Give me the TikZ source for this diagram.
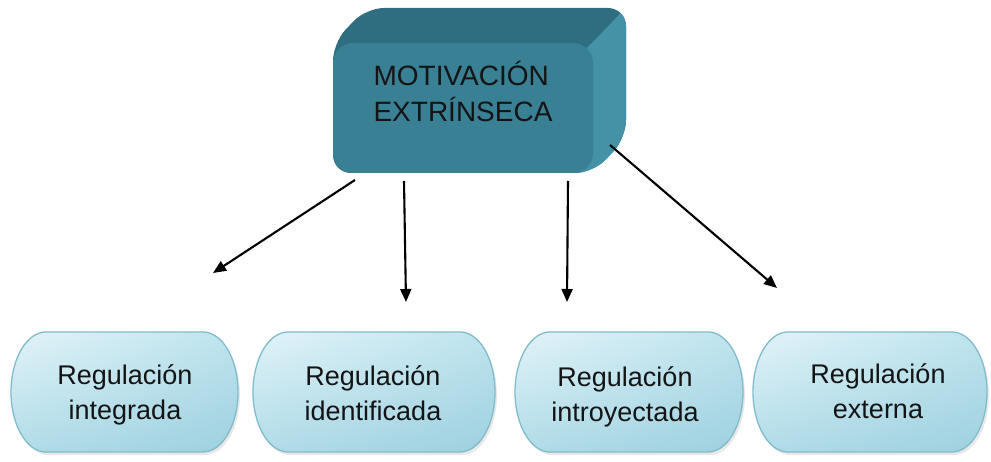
\documentclass[tikz,border=0pt]{standalone}
\usepackage{fontspec}
\setmainfont{Liberation Sans}
\usetikzlibrary{arrows.meta,shadings}
\definecolor{frontc}{RGB}{58,128,148}
\definecolor{topc}{RGB}{46,110,128}
\definecolor{sidec}{RGB}{68,146,166}
\definecolor{boxul}{RGB}{226,243,248}
\definecolor{boxur}{RGB}{190,228,238}
\definecolor{boxll}{RGB}{176,220,232}
\definecolor{boxlr}{RGB}{158,208,223}
\definecolor{boxedge}{RGB}{128,188,204}
\definecolor{txt}{RGB}{20,20,20}
\tikzset{
  lbl/.style={font=\fontsize{27}{35}\selectfont, align=center, text=txt, inner sep=0pt},
  conn/.style={line width=2.1pt, -{Triangle[length=13pt,width=11pt]}}
}
\begin{document}
\begin{tikzpicture}[x=1pt,y=1pt]
\useasboundingbox (0,0) rectangle (991,461);
% ---- 3D box ----
\path[fill=topc, rounded corners=18] (333,288) -- (333,418) -- (366,453) -- (626,453) -- (626,323) -- (593,288) -- cycle;
\begin{scope}
  \clip[rounded corners=18] (333,288) -- (333,418) -- (366,453) -- (626,453) -- (626,323) -- (593,288) -- cycle;
  \fill[sidec] (592,418) -- (700,531) -- (700,200) -- (570,200) -- (570,398) -- cycle;
\end{scope}
\fill[frontc, rounded corners=20] (333,288) rectangle (593,418);
\node[lbl, font=\fontsize{28}{36}\selectfont, align=left] (mot) at (463,370) {MOTIVACIÓN\\EXTRÍNSECA};
% ---- bottom boxes ----
\foreach \l/\r in {11/238,253/495,515/743,753/987}{
  \fill[black!30,opacity=.3] (\l+37,126) -- (\r-33,126) arc[start angle=90,end angle=-90,x radius=35,y radius=60] -- (\l+37,6) arc[start angle=270,end angle=90,x radius=35,y radius=60] -- cycle;
  \shade[upper left=boxul, upper right=boxur, lower left=boxll, lower right=boxlr, draw=boxedge, line width=1.3pt]
    (\l+35,129) -- (\r-35,129) arc[start angle=90,end angle=-90,x radius=35,y radius=60] -- (\l+35,9) arc[start angle=270,end angle=90,x radius=35,y radius=60] -- cycle;
}
\node[lbl] (t1) at (125,66) {Regulación\\integrada};
\node[lbl] (t2) at (373,68) {Regulación\\identificada};
\node[lbl] (t3) at (625,64) {Regulación\\introyectada};
\node[lbl] (t4) at (878,70) {Regulación\\externa};
% ---- connectors ----
\coordinate (a1s) at (355,281); \coordinate (a1e) at (213,188);
\coordinate (a2s) at (404,280); \coordinate (a2e) at (406,159);
\coordinate (a3s) at (568,280); \coordinate (a3e) at (567,159);
\coordinate (a4s) at (610,316); \coordinate (a4e) at (777,173);
\draw[conn] (a1s) -- (a1e);
\draw[conn] (a2s) -- (a2e);
\draw[conn] (a3s) -- (a3e);
\draw[conn] (a4s) -- (a4e);
\end{tikzpicture}
\end{document}
